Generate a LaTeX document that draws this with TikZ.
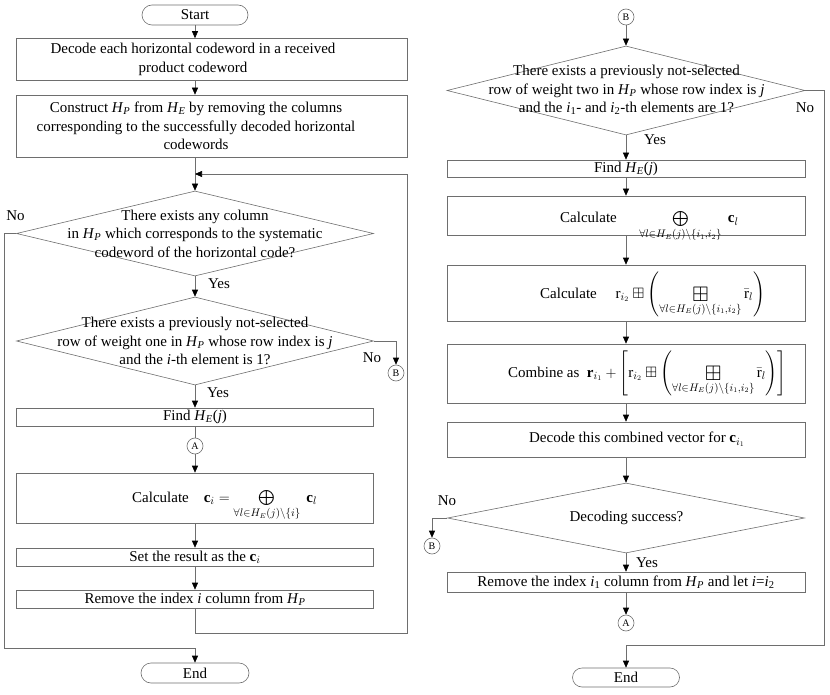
\documentclass[tikz,border=0pt]{standalone}
\usepackage{amsmath,amssymb}
\usepackage{graphicx}
\usepackage{fontspec}
\setmainfont{Liberation Serif}
\usetikzlibrary{shapes.geometric,shapes.misc,arrows.meta}
\newcommand{\HP}{\textit{H}\textsubscript{\textit{P}}}
\newcommand{\HEj}{\textit{H}\textsubscript{\textit{E}}(\textit{j})}
\newcommand{\bigbplus}{\mathop{\vcenter{\hbox{\scalebox{1.4}{$\boxplus$}}}}}
\definecolor{ln}{RGB}{110,110,110}
\begin{document}
\begin{tikzpicture}[x=1pt,y=-1pt,
  every node/.style={font=\fontsize{15}{18.5}\selectfont},
  proc/.style={draw=ln, line width=0.6pt, rectangle, inner sep=0pt},
  dec/.style={draw=ln, line width=0.6pt, diamond, inner sep=0pt},
  term/.style={draw=ln, line width=0.6pt, rounded rectangle, inner sep=0pt, minimum width=106, minimum height=20},
  conn/.style={draw=ln, line width=0.6pt, circle, inner sep=0pt, minimum size=16, font=\fontsize{10}{11}\selectfont},
  txt/.style={align=center, inner sep=0pt},
  arr/.style={draw=ln, line width=0.6pt, -{Triangle[length=7pt,width=6pt,color=black]}},
  plain/.style={draw=ln, line width=0.6pt},
  lbl/.style={inner sep=0pt}]
\useasboundingbox (0,0) rectangle (830,695);
% ---------- left column ----------
\node[term] (start) at (195,15) {Start};
\node[proc, minimum width=391, minimum height=42] (b1) at (211.5,59.5) {};
\node[txt] (b1t) at (193,59.5) {Decode each horizontal codeword in a received\\product codeword};
\node[proc, minimum width=391, minimum height=62] (b2) at (211.5,126) {};
\node[txt] (b2t) at (196,126) {Construct \HP{} from \textit{H}\textsubscript{\textit{E}} by removing the columns\\corresponding to the successfully decoded horizontal\\codewords};
\node[dec, minimum width=357, minimum height=85] (d1) at (195,233.5) {};
\node[txt] (d1t) at (195,233.5) {There exists any column\\in \HP{} which corresponds to the systematic\\codeword of the horizontal code?};
\node[dec, minimum width=357, minimum height=88] (d2) at (195,341) {};
\node[txt] (d2t) at (195,341) {There exists a previously not-selected\\row of weight one in \HP{} whose row index is \textit{j}\\and the \textit{i}-th element is 1?};
\node[conn] (B1) at (396,373) {B};
\node[proc, minimum width=357, minimum height=18] (f1) at (195,417) {Find \HEj};
\node[conn] (A1) at (195,446) {A};
\node[proc, minimum width=357, minimum height=50] (c1) at (195,498) {};
\node[txt, anchor=base west] (c1t) at (132,502) {Calculate\quad $\mathbf{c}_i = \bigoplus\limits_{\forall l\in H_E(j)\setminus\{i\}}\ \mathbf{c}_l$};
\node[proc, minimum width=357, minimum height=18] (s1) at (195,557) {Set the result as the $\mathbf{c}_i$};
\node[proc, minimum width=357, minimum height=18] (r1) at (195,599) {Remove the index \textit{i} column from \HP};
\node[term, minimum width=108] (end1) at (195,673) {End};
% left connectors
\draw[arr] (start.south) -- (start.south |- b1.north);
\draw[arr] (start.south |- b1.south) -- (start.south |- b2.north);
\draw[arr] (d1.north |- b2.south) -- (d1.north);
\draw[arr] (d1.south) -- (d2.north);
\draw[arr] (d2.east) -| (B1.north);
\draw[arr] (d2.south) -- (f1.north);
\draw[plain] (f1.south) -- (A1.north);
\draw[arr] (A1.south) -- (c1.north);
\draw[arr] (c1.south) -- (s1.north);
\draw[arr] (s1.south) -- (r1.north);
\coordinate (lp1) at (195,633);
\coordinate (lp2) at (407,633);
\coordinate (lp3) at (407,174);
\coordinate (lp4) at (195,174);
\draw[arr] (r1.south) -- (lp1) -- (lp2) -- (lp3) -- (lp4);
\coordinate (n1a) at (4,233.5);
\coordinate (n1b) at (4,648);
\coordinate (n1c) at (195,648);
\draw[arr] (d1.west) -- (n1a) -- (n1b) -- (n1c) -- (end1.north);
\node[lbl] (y1) at (219,284) {Yes};
\node[lbl] (y2) at (218,393) {Yes};
\node[lbl] (no1) at (15.5,216) {No};
\node[lbl] (no2) at (372,358) {No};
% ---------- right column ----------
\node[conn] (B2) at (626,17) {B};
\node[dec, minimum width=358, minimum height=89] (d3) at (626,90.5) {};
\node[txt] (d3t) at (626.5,90) {There exists a previously not-selected\\row of weight two in \HP{} whose row index is \textit{j}\\and the \textit{i}\textsubscript{1}- and \textit{i}\textsubscript{2}-th elements are 1?};
\node[proc, minimum width=358, minimum height=17] (f2) at (626,168.5) {Find \HEj};
\node[proc, minimum width=358, minimum height=39] (c2) at (626,215.5) {};
\node[txt, anchor=base west] (c2t) at (560,223) {Calculate\quad\ \ $\bigoplus\limits_{\forall l\in H_E(j)\setminus\{i_1,i_2\}}\ \mathbf{c}_l$};
\node[proc, minimum width=358, minimum height=56] (c3) at (626,293) {};
\node[txt, anchor=base west] (c3t) at (540,298) {Calculate\quad\ $\mathrm{r}_{i_2}\boxplus\left(\bigbplus\limits_{\forall l\in H_E(j)\setminus\{i_1,i_2\}}\bar{\mathrm{r}}_l\right)$};
\node[proc, minimum width=358, minimum height=59] (cb) at (626,373.5) {};
\node[txt, anchor=base west] (cbt) at (508,377) {Combine as\ \ $\mathbf{r}_{i_1}+\left[\mathrm{r}_{i_2}\boxplus\left(\bigbplus\limits_{\forall l\in H_E(j)\setminus\{i_1,i_2\}}\bar{\mathrm{r}}_l\right)\right]$};
\node[proc, minimum width=358, minimum height=35] (dc) at (626,439.5) {};
\node[txt] (dct) at (637,439.5) {Decode this combined vector for $\mathbf{c}_{i_1}$};
\node[dec, minimum width=357, minimum height=70] (d4) at (626,518) {};
\node[txt] (d4t) at (626.5,518) {Decoding success?};
\node[conn] (B3) at (432,546) {B};
\node[proc, minimum width=358, minimum height=20] (r2) at (626,582) {Remove the index \textit{i}\textsubscript{1} column from \HP{} and let \textit{i}=\textit{i}\textsubscript{2}};
\node[conn] (A2) at (626,623) {A};
\node[term, minimum width=107, minimum height=19] (end2) at (626,677.5) {End};
% right connectors
\draw[arr] (B2.south) -- (d3.north);
\draw[arr] (d3.south) -- (f2.north);
\draw[arr] (f2.south) -- (c2.north);
\draw[arr] (c2.south) -- (c3.north);
\draw[arr] (c3.south) -- (cb.north);
\draw[arr] (cb.south) -- (dc.north);
\draw[arr] (dc.south) -- (d4.north);
\draw[arr] (d4.west) -| (B3.north);
\draw[arr] (d4.south) -- (r2.north);
\draw[arr] (r2.south) -- (A2.north);
\coordinate (n3a) at (824,90.5);
\coordinate (n3b) at (824,645);
\coordinate (n3c) at (626,645);
\draw[arr] (d3.east) -- (n3a) -- (n3b) -- (n3c) -- (end2.north);
\node[lbl] (y3) at (655,140) {Yes};
\node[lbl] (no3) at (805,108) {No};
\node[lbl] (no4) at (447,501) {No};
\node[lbl] (y4) at (647,563) {Yes};
\end{tikzpicture}
\end{document}
